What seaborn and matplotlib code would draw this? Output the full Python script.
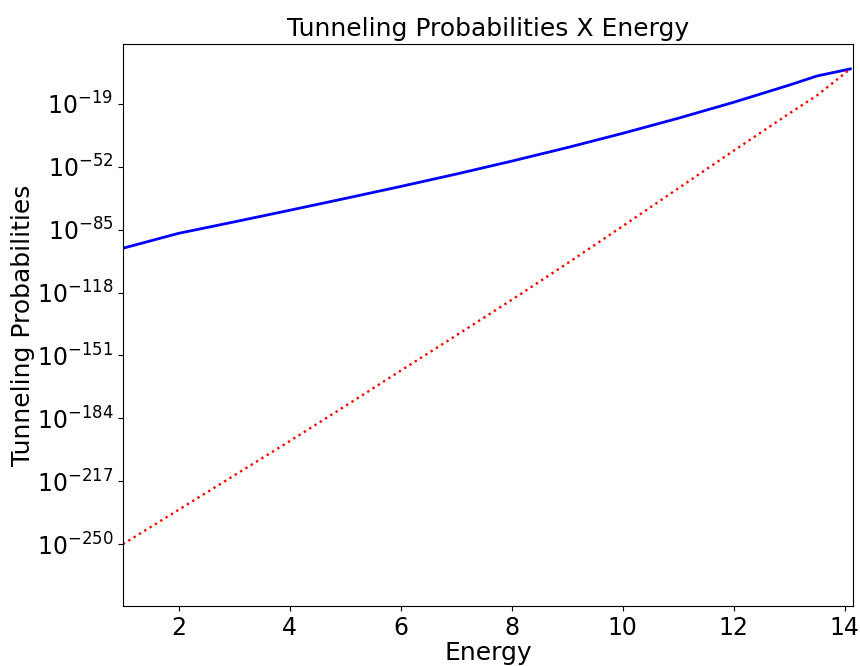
import numpy as np
import pandas as pd
import seaborn as sns
import matplotlib
matplotlib.use('Agg')
import matplotlib.pyplot as plt
from matplotlib.ticker import FixedLocator, NullLocator

# Energy values
energy = [1, 2, 3, 4, 5, 6, 7, 8, 9, 10, 11, 12, 13, 13.5, 14.1]

# log10 of the tunneling probability
exact_exp = [-94.7, -86.9, -80.9, -74.8, -68.6, -62.3, -55.8, -49.0, -41.9,
             -34.4, -26.5, -18.1, -9.1, -4.3, -0.6]
approx_exp = [-250, -232, -214, -196, -177.6, -159, -140.5, -121.8, -102.7,
              -83.1, -63.3, -43.5, -24, -14.5, -0.6]

# y tick exponents shown on the axis
ytick_exp = [-250, -217, -184, -151, -118, -85, -52, -19]
xtick_vals = [2, 4, 6, 8, 10, 12, 14]

df = pd.DataFrame({
    'Energy': energy,
    'exact': [10.0 ** e for e in exact_exp],
    'approx': [10.0 ** e for e in approx_exp],
})

plt.rcParams['font.family'] = ['DejaVu Sans']
plt.rcParams['font.size'] = 17

fig, ax = plt.subplots(figsize=(8.6, 6.66), dpi=100)
fig.subplots_adjust(left=0.143, right=0.992, top=0.934, bottom=0.090)

sns.lineplot(data=df, x='Energy', y='exact', color='blue', linewidth=2, ax=ax)
sns.lineplot(data=df, x='Energy', y='approx', color='red', linewidth=1.7,
             linestyle=':', ax=ax)

ax.set_yscale('log')
ax.set_ylim(10.0 ** -282.5, 10.0 ** 12.5)
ax.set_xlim(1, 14.15)
ax.yaxis.set_major_locator(FixedLocator([10.0 ** e for e in ytick_exp]))
ax.yaxis.set_minor_locator(NullLocator())
ax.set_yticklabels([f'$\\mathdefault{{10^{{{e}}}}}$' for e in ytick_exp])
ax.set_xticks(xtick_vals)

ax.set_title('Tunneling Probabilities X Energy', fontsize=18)
ax.set_xlabel('Energy', fontsize=18, labelpad=1)
ax.set_ylabel('Tunneling Probabilities', fontsize=18, labelpad=1)

fig.savefig('out.png', dpi=100)
